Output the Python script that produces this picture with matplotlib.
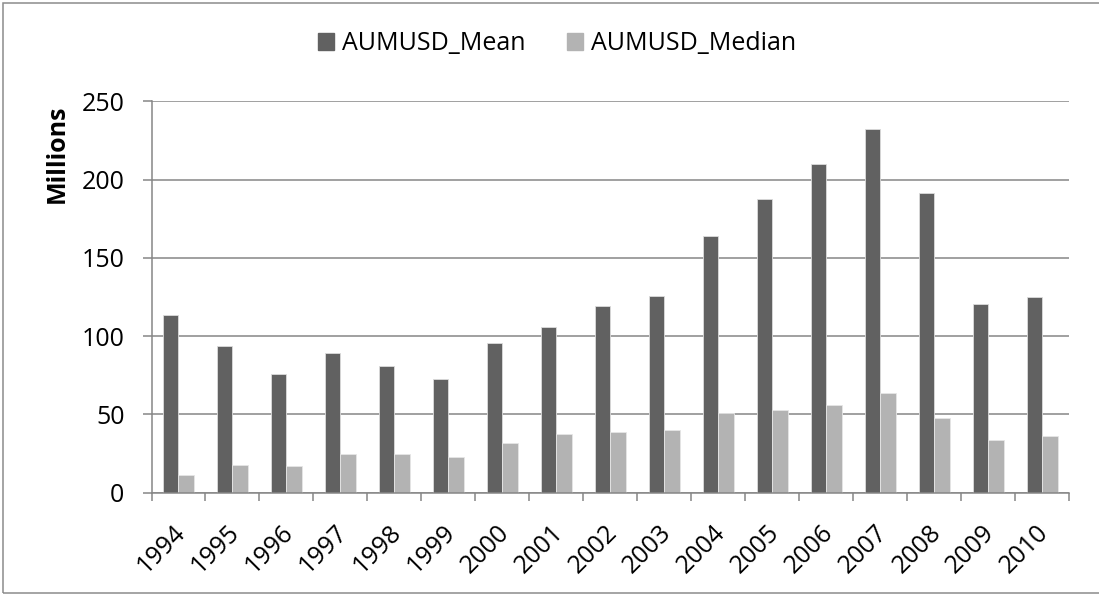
import matplotlib
matplotlib.use("Agg")
import matplotlib.pyplot as plt
import matplotlib.transforms as mtransforms
import numpy as np
from matplotlib.patches import Rectangle

years = ["1994", "1995", "1996", "1997", "1998", "1999", "2000", "2001", "2002",
         "2003", "2004", "2005", "2006", "2007", "2008", "2009", "2010"]
mean_vals = [113.5, 93.7, 75.8, 89.2, 81.1, 72.4, 95.6, 106.0, 119.2,
             125.6, 164.0, 187.6, 209.7, 232.5, 191.4, 120.5, 125.2]
median_vals = [11.0, 17.6, 17.0, 24.9, 24.7, 22.7, 31.5, 37.4, 38.9,
               40.0, 50.9, 52.8, 56.0, 63.6, 47.7, 33.6, 35.9]
series_names = ["AUMUSD_Mean", "AUMUSD_Median"]
y_ticks = [0, 50, 100, 150, 200, 250]

plt.rcParams['font.family'] = ['Open Sans', 'DejaVu Sans']
FS = 18

W, H = 1099, 595
fig = plt.figure(figsize=(W / 100, H / 100), dpi=100)

# outer chart border
fig.patches.append(Rectangle((3 / W, 2 / H), 1.2, (H - 4.5) / H, transform=fig.transFigure,
                             fill=False, edgecolor='#8c8c8c', linewidth=1.1))

left, right = 151.5, 1069
top, bottom = 101.3, 492.6
ax = fig.add_axes([left / W, 1 - bottom / H, (right - left) / W, (bottom - top) / H])

grid_c = '#868686'
mean_c = '#616161'
med_c = '#b3b3b3'

x = np.arange(len(years))
bw = 0.287
ax.bar(x - bw / 2, mean_vals, bw, color=mean_c, edgecolor='#dcdcdc', linewidth=0.6,
       label=series_names[0], zorder=3)
ax.bar(x + bw / 2, median_vals, bw, color=med_c, edgecolor='#e6e6e6', linewidth=0.6,
       label=series_names[1], zorder=3)

ax.set_xlim(-0.5, len(years) - 0.5)
ax.set_ylim(0, 250)
ax.set_yticks(y_ticks)
ax.set_yticklabels([str(v) for v in y_ticks], fontsize=FS, color='#000000')
ax.yaxis.grid(True, color=grid_c, linewidth=1.1, zorder=0)
ax.set_axisbelow(True)

for s in ['top', 'right']:
    ax.spines[s].set_visible(False)
for s in ['left', 'bottom']:
    ax.spines[s].set_color(grid_c)
    ax.spines[s].set_linewidth(1.1)
    ax.spines[s].set_zorder(4)

ax.tick_params(axis='y', length=6.5, width=1.1, color=grid_c, pad=13)
ax.set_xticks(x)
ax.set_xticklabels(years, rotation=45, ha='right', va='center', rotation_mode='anchor',
                   fontsize=FS)
ax.tick_params(axis='x', which='major', length=0, pad=26)
shift = mtransforms.ScaledTranslation(3 / 100, 0, fig.dpi_scale_trans)
for lab in ax.get_xticklabels():
    lab.set_transform(lab.get_transform() + shift)
ax.set_xticks(np.arange(-0.5, len(years), 1.0), minor=True)
ax.tick_params(axis='x', which='minor', length=6, width=1.1, color=grid_c)

ax.set_ylabel("Millions", fontsize=FS, fontweight='bold')
ax.yaxis.set_label_coords((57.5 - left) / (right - left), (bottom - 154) / (bottom - top))
ax.yaxis.label.set_va('center')

handles = [Rectangle((0, 0), 1, 1, color=mean_c), Rectangle((0, 0), 1, 1, color=med_c)]
fig.legend(handles, series_names, loc='center', bbox_to_anchor=(557 / W, 1 - 44 / H),
           ncol=2, frameon=False, fontsize=FS, handlelength=0.64, handleheight=0.64,
           handletextpad=0.32, columnspacing=1.64, borderpad=0, borderaxespad=0)

fig.savefig("out.png", dpi=100)
